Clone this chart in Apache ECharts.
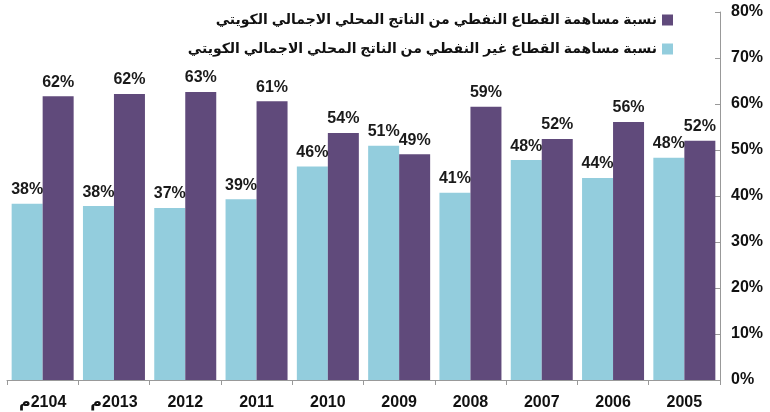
<!DOCTYPE html>
<html>
<head>
<meta charset="utf-8">
<script src="https://cdn.jsdelivr.net/npm/echarts@6/dist/echarts.min.js"></script>
<style>
  html, body { margin: 0; padding: 0; background: #fff; }
  #chart { width: 770px; height: 412px; }
</style>
</head>
<body>
<div id="chart"></div>
<script>
// years, left to right as in the picture
var years = ['م\u200E2104', 'م\u200E2013', '2012', '2011', '2010', '2009', '2008', '2007', '2006', '2005'];
var nonOilName = 'نسبة مساهمة القطاع غير النفطي من الناتج المحلي الاجمالي الكويتي';
var oilName = 'نسبة مساهمة القطاع النفطي من الناتج المحلي الاجمالي الكويتي';
var nonOil = [38.3, 37.8, 37.4, 39.3, 46.4, 50.9, 40.7, 47.8, 43.9, 48.3];
var oil = [61.7, 62.2, 62.6, 60.6, 53.7, 49.1, 59.4, 52.4, 56.1, 52.0];
var yTicks = [0, 10, 20, 30, 40, 50, 60, 70, 80];

var font = 'Arial, "Liberation Sans", "DejaVu Sans", sans-serif';

var chart = echarts.init(document.getElementById('chart'));

var label = {
  show: true,
  position: 'top',
  distance: 6,
  color: '#1a1a1a',
  fontWeight: 'bold',
  fontSize: 16,
  fontFamily: font,
  formatter: function (p) { return Math.round(p.value) + '%'; }
};

chart.setOption({
  animation: false,
  grid: { left: 7, right: 50, top: 12, bottom: 32 },
  legend: {
    orient: 'vertical',
    right: 92,
    top: 8,
    align: 'right',
    itemWidth: 11,
    itemHeight: 11,
    itemGap: 15,
    icon: 'rect',
    data: [oilName, nonOilName],
    textStyle: { fontSize: 14, fontWeight: 'bold', color: '#111', fontFamily: font }
  },
  xAxis: {
    type: 'category',
    data: years,
    axisLine: { lineStyle: { color: '#999' } },
    axisTick: { show: true, lineStyle: { color: '#999' }, length: 5 },
    axisLabel: { color: '#111', fontSize: 16, fontWeight: 'bold', fontFamily: font, margin: 15 }
  },
  yAxis: {
    type: 'value',
    position: 'right',
    min: yTicks[0],
    max: yTicks[yTicks.length - 1],
    interval: 10,
    axisLine: { show: true, lineStyle: { color: '#999' } },
    axisTick: { show: true, inside: true, length: 5, lineStyle: { color: '#999' } },
    splitLine: { show: false },
    axisLabel: { color: '#111', fontSize: 16, fontWeight: 'bold', fontFamily: font, margin: 11, formatter: '{value}%' }
  },
  series: [
    {
      name: nonOilName,
      type: 'bar',
      data: nonOil,
      barWidth: 31,
      barGap: '0%',
      itemStyle: { color: '#93CDDD' },
      label: label
    },
    {
      name: oilName,
      type: 'bar',
      data: oil,
      barWidth: 31,
      itemStyle: { color: '#604A7B' },
      label: label
    }
  ]
});
</script>
</body>
</html>
